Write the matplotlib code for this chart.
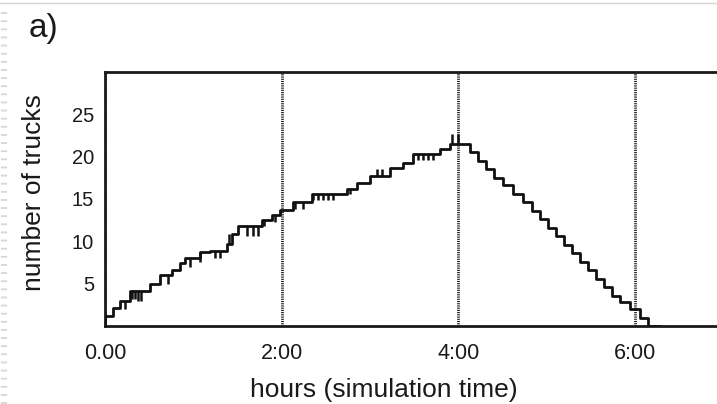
import matplotlib
matplotlib.use("Agg")
import matplotlib.pyplot as plt
from matplotlib.lines import Line2D

plt.rcParams['font.family'] = ['Liberation Sans', 'DejaVu Sans']

# ---- data (hours, number of trucks) ----
step_hours = [0.000, 0.000, 0.091, 0.170, 0.283, 0.510, 0.623, 0.759, 0.849, 0.906,
              1.076, 1.189, 1.382, 1.438, 1.506, 1.778, 1.891, 1.982, 2.129, 2.344,
              2.741, 2.854, 3.001, 3.228, 3.375, 3.488, 3.794, 3.907,
              4.134, 4.224, 4.315, 4.405, 4.507, 4.621, 4.734, 4.836, 4.926, 5.017,
              5.108, 5.198, 5.289, 5.379, 5.470, 5.561, 5.651, 5.742, 5.832, 5.946,
              6.059, 6.149, 6.285]
step_trucks = [0.0, 1.2, 2.1, 3.0, 4.1, 5.0, 6.0, 6.6, 7.4, 8.0,
               8.7, 8.9, 9.7, 10.9, 11.8, 12.5, 13.1, 13.7, 14.6, 15.6,
               16.2, 16.9, 17.7, 18.7, 19.3, 20.3, 20.9, 21.5,
               20.5, 19.5, 18.5, 17.5, 16.6, 15.6, 14.6, 13.6, 12.6, 11.6,
               10.6, 9.6, 8.6, 7.6, 6.6, 5.6, 4.6, 3.6, 2.8, 2.0,
               1.0, 0.0, 0.0]

# brief fluctuations (spikes) in the rising phase
spike_hours = [0.226, 0.306, 0.340, 0.374, 0.408, 0.713, 0.963, 1.076, 1.246, 1.302,
               1.404, 1.608, 1.676, 1.733, 1.801, 1.925, 2.152, 2.242, 2.356, 2.412,
               2.469, 2.525, 2.582, 2.775, 3.080, 3.137, 3.545, 3.601, 3.658, 3.715,
               3.930, 3.998]
spike_low = [2.0, 3.2, 3.2, 3.0, 3.0, 5.0, 7.0, 7.6, 8.0, 8.0,
             9.7, 10.6, 10.6, 10.6, 11.8, 12.3, 13.8, 13.8, 14.9, 14.9,
             14.9, 14.9, 14.9, 15.6, 17.7, 17.7, 19.6, 19.6, 19.6, 19.6,
             21.5, 21.5]
spike_high = [3.0, 4.1, 4.1, 4.1, 4.1, 6.0, 8.0, 8.7, 8.9, 8.9,
              10.9, 11.8, 11.8, 11.8, 12.5, 13.1, 14.6, 14.6, 15.6, 15.6,
              15.6, 15.6, 15.6, 16.2, 18.5, 18.5, 20.3, 20.3, 20.3, 20.3,
              22.7, 22.7]

x_ticks = [0, 2, 4, 6]
x_tick_labels = ["0.00", "2:00", "4:00", "6:00"]
y_ticks = [5, 10, 15, 20, 25]
y_tick_labels = ["5", "10", "15", "20", "25"]
marker_hours = [0, 2, 4, 6]

W, H = 717, 404
fig = plt.figure(figsize=(W / 100, H / 100), dpi=100)
fig.patch.set_facecolor("white")

# axes: left 105px, bottom 326px, top 72px, right beyond image
ax = fig.add_axes([105 / W, (H - 326) / H, 618 / W, (326 - 72) / H])
ax.set_xlim(0, 7)
ax.set_ylim(0, 30)

lc = "#111111"
ax.step(step_hours, step_trucks, where="post", color=lc, lw=2.0, zorder=3)
ax.vlines(spike_hours, spike_low, spike_high, color=lc, lw=1.8, zorder=3)

for h in marker_hours:
    ax.axvline(h, color="#1a1a1a", lw=2.0, linestyle=(0, (0.4, 0.4)), zorder=2)

for side in ["top", "bottom", "left", "right"]:
    ax.spines[side].set_linewidth(2.0)
    ax.spines[side].set_color("#1a1a1a")

ax.set_xticks(x_ticks)
ax.set_xticklabels(x_tick_labels, fontsize=15.5)
ax.set_yticks(y_ticks)
ax.set_yticklabels(y_tick_labels, fontsize=14.5)
ax.tick_params(axis="x", length=0, pad=12, colors="#1a1a1a")
ax.tick_params(axis="y", length=0, pad=8, colors="#1a1a1a")

ax.set_xlabel("hours (simulation time)", fontsize=19, color="#1a1a1a")
ax.xaxis.label.set_va("center")
ax.xaxis.set_label_coords((384 - 105) / 618, (326 - 390) / 254)
ax.set_ylabel("number of trucks", fontsize=19, color="#1a1a1a")
ax.yaxis.label.set_va("center")
ax.yaxis.set_label_coords((34 - 105) / 618, (326 - 193) / 254)

fig.text(43 / W, 1 - 29 / H, "a)", fontsize=24, ha="center", va="center", color="#1a1a1a")

# page artefacts: thin top rule and dashed left strip
fig.add_artist(Line2D([0, 1], [1 - 3 / H, 1 - 3 / H], transform=fig.transFigure,
                      color="#d4d4d4", lw=1.0))
fig.add_artist(Line2D([4 / W, 4 / W], [0, 1 - 6 / H], transform=fig.transFigure,
                      color="#d8d8d8", lw=4.5, linestyle=(0, (0.3, 1.0))))

fig.savefig("out.png", dpi=100)
